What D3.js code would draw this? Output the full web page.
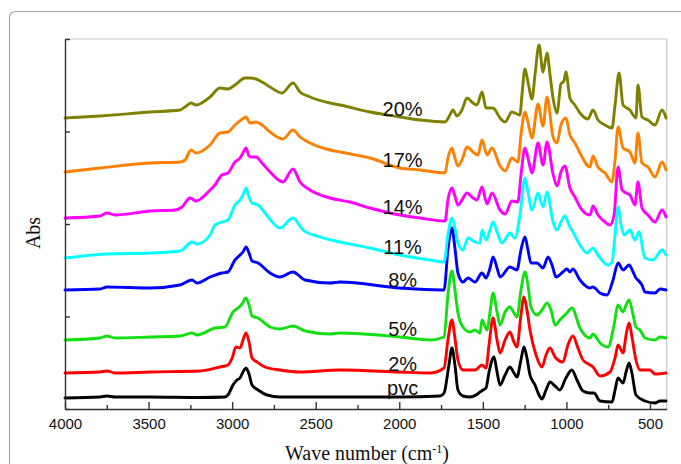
<html>
<head>
<meta charset="utf-8">
<style>
    body { margin: 0; background: #fff; }
    .spectrum { fill: none; stroke-width: 2.9; stroke-linejoin: round; stroke-linecap: round; }
    .axis path, .axis line { stroke: #333; stroke-width: 1.4; }
    .axis text { font-family: Arial, "Liberation Sans", sans-serif; font-size: 15px; fill: #111; }
    .frame { stroke: #c8c8c8; stroke-width: 1.2; }
    .label { font-family: Arial, "Liberation Sans", sans-serif; font-size: 20px; fill: #111; }
    .title { font-family: "Times New Roman", "Liberation Serif", serif; font-size: 20px; fill: #111; }
</style>
</head>
<script src="https://d3js.org/d3.v7.min.js"></script>
<body>
    <svg id="ftirChart"></svg>
</body>

<script>
    // spectra: [wave number (cm-1), absorbance]
    let pvc = [[4000,0.11],[3791,0.12],[3749,0.13],[3700,0.12],[3491,0.12],[3192,0.115],[3043,0.12],[3025,0.14],
        [2995,0.24],[2971,0.29],[2953,0.31],[2935,0.37],[2917,0.41],[2899,0.35],[2881,0.24],[2845,0.19],[2791,0.14],
        [2714,0.12],[2355,0.12],[1996,0.12],[1756,0.13],[1732,0.16],[1703,0.44],[1685,0.61],[1667,0.44],[1649,0.19],
        [1619,0.13],[1577,0.12],[1541,0.14],[1517,0.17],[1499,0.19],[1481,0.21],[1463,0.37],[1433,0.52],[1415,0.37],
        [1397,0.24],[1367,0.34],[1338,0.42],[1314,0.36],[1296,0.32],[1272,0.49],[1254,0.62],[1236,0.51],[1218,0.34],
        [1188,0.24],[1164,0.14],[1146,0.10],[1122,0.19],[1098,0.27],[1068,0.23],[1039,0.19],[1003,0.31],[967,0.39],
        [937,0.29],[901,0.18],[859,0.16],[835,0.16],[799,0.08],[727,0.07],[709,0.19],[691,0.31],[661,0.26],[643,0.37],
        [625,0.46],[607,0.35],[584,0.14],[530,0.08],[470,0.06],[440,0.08],[404,0.08]];

    let pct2 = [[4000,0.36],[3791,0.37],[3749,0.38],[3700,0.36],[3491,0.37],[3192,0.38],[3073,0.42],[3025,0.44],
        [3000,0.51],[2977,0.62],[2953,0.61],[2935,0.69],[2917,0.76],[2899,0.67],[2881,0.51],[2851,0.47],[2803,0.42],
        [2714,0.39],[2594,0.37],[2355,0.39],[1996,0.37],[1816,0.36],[1732,0.41],[1709,0.69],[1685,0.89],[1667,0.71],
        [1649,0.49],[1619,0.39],[1547,0.39],[1505,0.44],[1481,0.41],[1463,0.64],[1439,0.91],[1415,0.69],[1397,0.56],
        [1367,0.69],[1338,0.77],[1314,0.67],[1296,0.62],[1272,0.94],[1254,1.12],[1236,0.99],[1218,0.79],[1182,0.54],
        [1146,0.42],[1122,0.54],[1098,0.61],[1068,0.52],[1021,0.47],[991,0.64],[961,0.73],[931,0.61],[901,0.49],
        [841,0.42],[799,0.33],[739,0.37],[709,0.51],[691,0.64],[661,0.56],[643,0.74],[625,0.86],[607,0.71],[584,0.49],
        [560,0.39],[500,0.39],[470,0.35],[404,0.36]];

    let pct5 = [[4000,0.69],[3791,0.71],[3749,0.73],[3700,0.71],[3491,0.72],[3312,0.73],[3240,0.76],[3210,0.74],
        [3103,0.81],[3043,0.82],[2995,0.97],[2965,1.01],[2941,1.05],[2917,1.11],[2899,1.04],[2881,0.93],[2845,0.91],
        [2773,0.82],[2714,0.80],[2636,0.83],[2564,0.78],[2415,0.75],[2355,0.76],[1996,0.72],[1816,0.69],[1732,0.72],
        [1709,1.14],[1685,1.38],[1667,1.19],[1649,0.96],[1619,0.82],[1577,0.77],[1547,0.79],[1517,0.76],[1505,0.89],
        [1475,0.79],[1457,0.97],[1439,1.16],[1415,0.97],[1397,0.84],[1367,0.97],[1338,1.02],[1314,0.96],[1296,0.92],
        [1272,1.19],[1248,1.37],[1230,1.24],[1212,1.02],[1176,0.94],[1146,0.99],[1116,1.06],[1092,0.99],[1068,0.84],
        [1039,0.89],[997,0.96],[967,1.01],[919,0.81],[859,0.71],[841,0.75],[799,0.66],[751,0.62],[715,0.84],[691,1.04],
        [661,0.97],[643,1.04],[625,1.09],[601,0.94],[584,0.82],[560,0.79],[530,0.71],[470,0.69],[440,0.72],[404,0.71]];

    let pct8 = [[4000,1.19],[3791,1.20],[3749,1.22],[3491,1.21],[3312,1.24],[3240,1.29],[3210,1.26],[3132,1.32],
        [3061,1.36],[3025,1.37],[2983,1.49],[2953,1.54],[2935,1.57],[2917,1.62],[2899,1.56],[2881,1.48],[2845,1.46],
        [2773,1.36],[2714,1.32],[2636,1.37],[2564,1.29],[2415,1.26],[2355,1.27],[1996,1.21],[1756,1.19],[1732,1.19],
        [1709,1.59],[1685,1.81],[1667,1.61],[1649,1.36],[1619,1.27],[1589,1.31],[1547,1.27],[1505,1.36],[1481,1.31],
        [1457,1.41],[1439,1.52],[1415,1.41],[1397,1.32],[1338,1.42],[1296,1.39],[1272,1.59],[1248,1.72],[1230,1.59],
        [1212,1.46],[1176,1.46],[1140,1.41],[1110,1.52],[1086,1.44],[1062,1.32],[1021,1.37],[997,1.40],[979,1.37],
        [961,1.40],[919,1.29],[859,1.21],[841,1.22],[799,1.16],[757,1.14],[721,1.29],[691,1.46],[661,1.39],[625,1.44],
        [601,1.37],[584,1.31],[572,1.29],[548,1.24],[530,1.17],[470,1.16],[440,1.20],[404,1.19]];

    let pct11 = [[4000,1.51],[3749,1.55],[3491,1.56],[3312,1.58],[3240,1.67],[3210,1.65],[3132,1.74],[3103,1.84],
        [3061,1.87],[3025,1.89],[2983,2.04],[2953,2.09],[2935,2.14],[2917,2.21],[2899,2.12],[2881,2.06],[2845,2.04],
        [2785,1.92],[2714,1.81],[2636,1.91],[2576,1.79],[2474,1.72],[2355,1.67],[2175,1.61],[1996,1.54],[1816,1.49],
        [1732,1.47],[1709,1.74],[1685,1.91],[1667,1.81],[1649,1.66],[1619,1.59],[1589,1.71],[1547,1.67],[1517,1.66],
        [1505,1.79],[1481,1.69],[1457,1.79],[1439,1.87],[1415,1.77],[1385,1.66],[1338,1.76],[1308,1.71],[1278,1.94],
        [1248,2.31],[1230,2.17],[1206,1.99],[1170,2.16],[1140,2.02],[1116,2.17],[1080,1.87],[1056,1.79],[1033,1.87],
        [1009,1.93],[985,1.84],[961,1.77],[919,1.64],[877,1.56],[841,1.61],[811,1.54],[751,1.44],[727,1.47],[709,1.74],
        [691,2.02],[673,1.84],[655,1.74],[620,1.79],[590,1.69],[566,1.77],[530,1.51],[482,1.49],[428,1.59],[404,1.54]];

    let pct14 = [[4000,1.91],[3791,1.93],[3749,1.96],[3700,1.94],[3491,1.98],[3342,1.99],[3300,2.02],[3252,2.11],
        [3216,2.08],[3132,2.19],[3103,2.24],[3061,2.34],[3025,2.36],[2983,2.47],[2953,2.51],[2935,2.56],[2917,2.61],
        [2899,2.53],[2887,2.52],[2857,2.52],[2821,2.46],[2773,2.37],[2696,2.27],[2636,2.40],[2594,2.27],[2534,2.19],
        [2415,2.11],[2295,2.07],[2175,2.01],[1996,1.94],[1876,1.91],[1726,1.88],[1709,2.09],[1685,2.21],[1667,2.13],
        [1649,2.04],[1625,2.09],[1595,2.16],[1559,2.11],[1535,2.09],[1505,2.22],[1475,2.05],[1445,2.16],[1397,1.99],
        [1367,1.95],[1326,2.08],[1290,2.07],[1272,2.34],[1248,2.61],[1230,2.51],[1206,2.36],[1170,2.66],[1140,2.44],
        [1116,2.67],[1080,2.35],[1056,2.23],[1033,2.37],[1009,2.43],[979,2.21],[949,2.12],[919,2.02],[859,1.94],
        [841,2.03],[811,1.94],[769,1.87],[739,1.84],[715,1.94],[691,2.42],[667,2.19],[643,2.16],[620,2.14],[590,2.04],
        [572,2.27],[548,2.01],[512,1.94],[470,1.87],[428,1.99],[404,1.92]];

    let pct17 = [[4000,2.37],[3791,2.41],[3491,2.46],[3312,2.47],[3282,2.49],[3246,2.59],[3216,2.56],[3132,2.64],
        [3073,2.76],[3025,2.77],[2983,2.84],[2947,2.89],[2917,2.92],[2893,2.86],[2857,2.87],[2821,2.84],[2773,2.77],
        [2696,2.70],[2636,2.79],[2594,2.72],[2534,2.66],[2415,2.59],[2355,2.57],[2175,2.51],[1996,2.41],[1876,2.39],
        [1726,2.36],[1709,2.51],[1685,2.61],[1667,2.51],[1649,2.43],[1625,2.49],[1595,2.62],[1559,2.57],[1529,2.54],
        [1505,2.69],[1475,2.54],[1445,2.61],[1397,2.43],[1367,2.38],[1326,2.51],[1290,2.47],[1272,2.74],[1248,2.97],
        [1230,2.87],[1206,2.71],[1170,3.05],[1140,2.83],[1116,3.12],[1080,2.72],[1056,2.66],[1033,2.84],[1003,2.91],
        [979,2.74],[949,2.66],[919,2.56],[859,2.42],[841,2.53],[811,2.42],[769,2.36],[727,2.27],[709,2.49],[691,2.82],
        [661,2.61],[620,2.57],[590,2.46],[572,2.76],[548,2.46],[512,2.42],[470,2.32],[428,2.47],[404,2.39]];

    let pct20 = [[4000,2.91],[3791,2.93],[3491,2.97],[3312,2.99],[3282,3.02],[3246,3.06],[3216,3.04],[3132,3.12],
        [3073,3.21],[3025,3.20],[2983,3.24],[2923,3.31],[2893,3.31],[2857,3.30],[2821,3.27],[2773,3.22],[2702,3.16],
        [2636,3.26],[2594,3.17],[2534,3.12],[2415,3.06],[2355,3.04],[2175,2.97],[1996,2.92],[1876,2.89],[1726,2.87],
        [1697,2.94],[1679,2.99],[1655,2.93],[1625,2.99],[1595,3.11],[1559,3.06],[1535,3.04],[1505,3.17],[1481,3.01],
        [1439,3.01],[1397,2.91],[1367,2.87],[1326,2.97],[1278,2.94],[1266,3.14],[1248,3.40],[1230,3.27],[1206,3.10],
        [1188,3.34],[1164,3.64],[1140,3.37],[1116,3.56],[1098,3.34],[1080,3.11],[1056,2.96],[1033,3.25],[1015,3.28],
        [1003,3.37],[979,3.11],[949,3.04],[919,2.96],[871,2.90],[841,2.99],[811,2.89],[769,2.84],[727,2.81],[709,3.04],
        [685,3.36],[661,3.04],[620,2.99],[584,2.91],[572,3.24],[548,2.92],[512,2.89],[470,2.84],[428,2.99],[404,2.91]];

    let seriesData = [pvc, pct2, pct5, pct8, pct11, pct14, pct17, pct20];
    let seriesNames = ['pvc', '2%', '5%', '8%', '11%', '14%', '17%', '20%'];
    let seriesColors = ['#000000', '#ff0000', '#12e012', '#0000ff', '#00ffff', '#ff00ff', '#ff8000', '#808000'];

    let majorTicks = [4000, 3500, 3000, 2500, 2000, 1500, 1000, 500];
    let minorTicks = [3750, 3250, 2750, 2250, 1750, 1250, 750];
    let labelWn = 1980;   // where the % labels sit on their curves

    drawChart();

    function getConfig(){
        let width = 681;
        let height = 464;
        let margin = {
            top: 39,
            bottom: 55,
            left: 65,
            right: 14.3
        }
        let bodyHeight = height - margin.top - margin.bottom
        let bodyWidth = width - margin.left - margin.right

        let container = d3.select('#ftirChart')
            .attr('width', width)
            .attr('height', height)

        return { width, height, margin, bodyHeight, bodyWidth, container }
    }

    function getScales(config){
        let xScale = d3.scaleLinear()
            .domain([4000, 400])
            .range([0, config.bodyWidth])

        let yScale = d3.scaleLinear()
            .domain([0, 3.7])
            .range([config.bodyHeight, 0])

        return {xScale, yScale};
    }

    function drawFrame(scales, config){
        let {container, margin, bodyWidth, bodyHeight} = config;

        // card outline around the figure
        container.append('rect')
            .attr('x', 9.5).attr('y', 11.5)
            .attr('width', 720).attr('height', 520)
            .attr('rx', 6)
            .attr('fill', 'none')
            .attr('stroke', '#a8a8a8')
            .attr('stroke-width', 1.2)

        let g = container.append('g')
            .attr('transform', `translate(${margin.left},${margin.top})`)
        g.append('line').attr('class', 'frame')
            .attr('x1', 0).attr('x2', bodyWidth).attr('y1', 0).attr('y2', 0)
        g.append('line').attr('class', 'frame')
            .attr('x1', bodyWidth).attr('x2', bodyWidth).attr('y1', 0).attr('y2', bodyHeight)
    }

    function drawAxes(scales, config){
        let {xScale, yScale} = scales;
        let {container, margin, height, bodyHeight} = config;

        let axisX = d3.axisBottom(xScale)
            .tickValues(majorTicks.concat(minorTicks))
            .tickFormat(d => majorTicks.includes(d) ? d : '')
            .tickSizeInner(-7)
            .tickSizeOuter(0)
            .tickPadding(9)

        let gx = container.append('g')
            .attr('class', 'axis')
            .attr('transform', `translate(${margin.left},${margin.top + bodyHeight})`)
            .call(axisX)
        gx.selectAll('.tick')
            .filter(d => !majorTicks.includes(d))
            .select('line').attr('y2', -4)

        let yTicks = d3.range(5).map(i => i * 3.7 / 4)
        let axisY = d3.axisLeft(yScale)
            .tickValues(yTicks)
            .tickFormat('')
            .tickSizeInner(-5)
            .tickSizeOuter(0)

        container.append('g')
            .attr('class', 'axis')
            .attr('transform', `translate(${margin.left},${margin.top})`)
            .call(axisY)

        container.append('text')
            .attr('class', 'title')
            .attr('transform', 'translate(40,233) rotate(-90)')
            .attr('text-anchor', 'middle')
            .text('Abs')

        let xt = container.append('text')
            .attr('class', 'title')
            .attr('x', 367)
            .attr('y', 460)
            .attr('text-anchor', 'middle')
        xt.append('tspan').text('Wave number (cm')
        xt.append('tspan').attr('font-size', '12px').attr('dy', -7).text('-1')
        xt.append('tspan').attr('dy', 7).text(')')
    }

    function valueAt(data, wn){
        for(let i = 0; i < data.length - 1; i++){
            let a = data[i], b = data[i+1];
            if(a[0] >= wn && b[0] <= wn){
                let t = (a[0] - wn) / (a[0] - b[0]);
                return a[1] + t * (b[1] - a[1]);
            }
        }
        return data[data.length-1][1];
    }

    function drawSpectra(scales, config){
        let {margin, container} = config;
        let {xScale, yScale} = scales;
        let body = container.append('g')
            .attr('transform', `translate(${margin.left},${margin.top})`)

        let lineG = d3.line()
            .x(d => xScale(d[0]))
            .y(d => yScale(d[1]))
            .curve(d3.curveMonotoneX)

        body.selectAll('.spectrum')
            .data(seriesData)
            .enter().append('path')
            .attr('class', 'spectrum')
            .attr('d', lineG)
            .attr('stroke', (d, i) => seriesColors[i])

        body.selectAll('.label')
            .data(seriesData)
            .enter().append('text')
            .attr('class', 'label')
            .attr('text-anchor', 'middle')
            .attr('x', xScale(labelWn))
            .attr('y', d => yScale(valueAt(d, labelWn)) - 1.5)
            .text((d, i) => seriesNames[i])
    }

    function drawChart(){
        let config = getConfig();
        let scales = getScales(config);
        drawFrame(scales, config);
        drawSpectra(scales, config);
        drawAxes(scales, config);
    }
</script>
</html>
